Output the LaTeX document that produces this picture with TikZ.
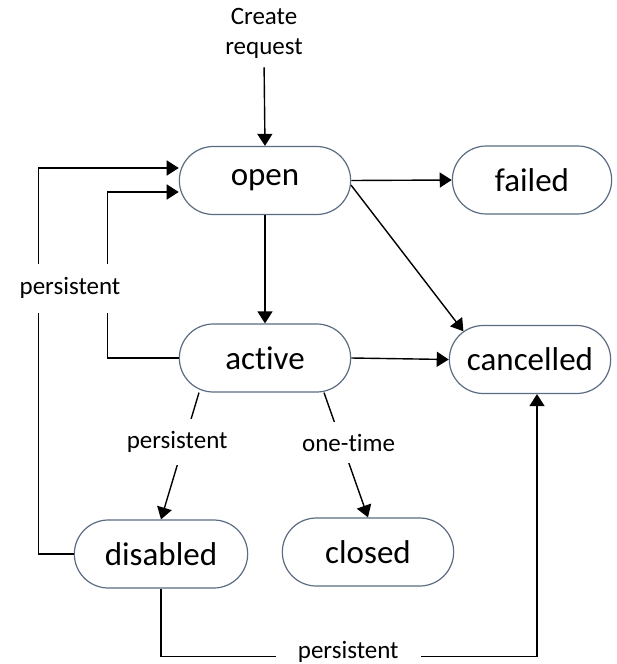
\documentclass[tikz,border=0pt]{standalone}
\usepackage{fontspec}
\setmainfont[Ligatures=NoCommon]{Carlito}
\usetikzlibrary{arrows.meta,shapes.misc}
\definecolor{boxline}{HTML}{5B6B82}
\begin{document}
\begin{tikzpicture}[x=1pt,y=-1pt,
  state/.style={draw=boxline,line width=1.2pt,rounded rectangle,minimum width=178pt,minimum height=68pt,font=\fontsize{33}{38}\selectfont},
  lbl/.style={font=\fontsize{25}{30}\selectfont,inner sep=1pt},
  gap/.style={lbl,fill=white},
  link/.style={line width=1.4pt,-{Triangle[length=12pt,width=15pt]}}]
\useasboundingbox (0,0) rectangle (616,664);
% states
\node[state] (open) at (265,180.5) {open};
\node[state,minimum width=166pt] (failed) at (532,180) {failed};
\node[state] (active) at (265,358) {active};
\node[state,minimum width=168pt] (cancelled) at (530,359.5) {cancelled};
\node[state,minimum width=180pt] (disabled) at (161,554) {disabled};
\node[state] (closed) at (368,552) {closed};
\node[lbl,align=center] (create) at (264,33) {Create\\request};
% transitions
\draw[link,shorten <=8pt] (create.south) -- (open.north);
\draw[link] (open.east) -- (failed.west);
\draw[link] (open.-3) -- (cancelled.157);
\draw[link] (open.south) -- (active.north);
\draw[link] (active.east) -- (cancelled.west);
\draw[link] ([xshift=-66pt]active.south) -- (disabled.north)
  node[gap,pos=0.39,xshift=-7pt,inner ysep=12pt] (pdis) {persistent};
\draw[link] ([xshift=59pt]active.south) -- (closed.north)
  node[gap,pos=0.4,xshift=7pt,inner ysep=12pt] (pclo) {one-time};
% back to open
\draw[link] (disabled.west) -- ++(-35,0) |- ([yshift=12.5pt]open.west);
\draw[link] (active.west) -- ++(-71,0) |- ([yshift=-11.5pt]open.west);
\node[gap,minimum height=49pt] (pback) at (70,288) {persistent};
% disabled to cancelled
\draw[link] (disabled.south) -- ++(0,68) -| ([xshift=7pt]cancelled.south)
  node[gap,pos=0.249,yshift=5pt,minimum width=145pt,minimum height=26pt] (pcan) {persistent};
\end{tikzpicture}
\end{document}
